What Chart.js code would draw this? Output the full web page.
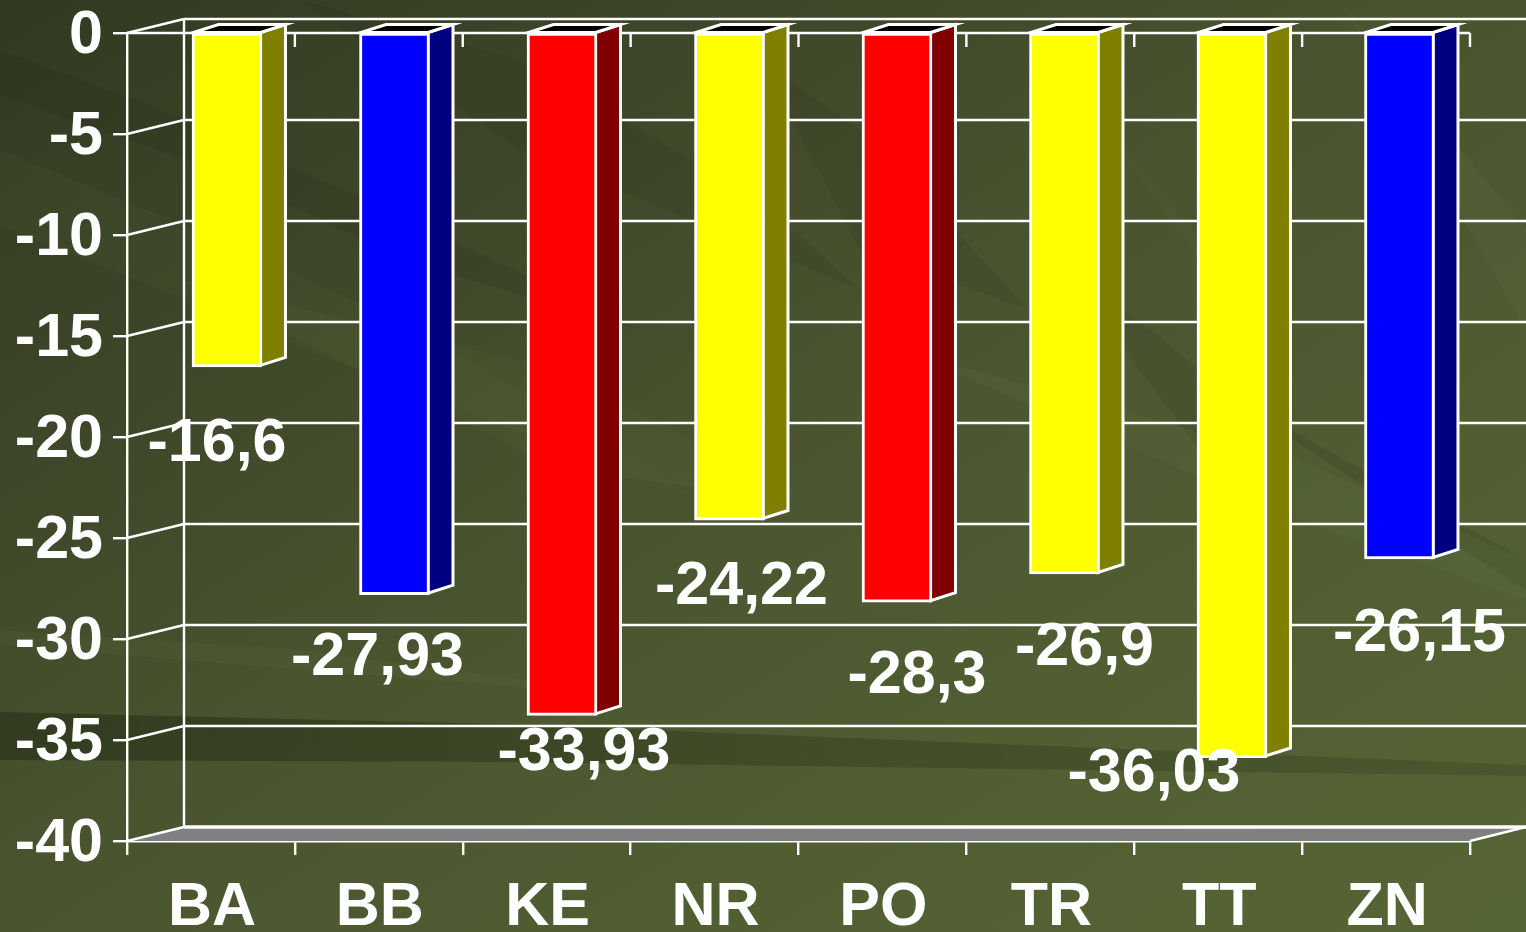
<!DOCTYPE html>
<html><head><meta charset="utf-8">
<style>
html,body{margin:0;padding:0;width:1526px;height:932px;overflow:hidden}
body{background:linear-gradient(to bottom right,#323922 0%,#3c4528 22%,#4a5530 50%,#505e32 72%,#566535 100%)}
canvas{display:block}
</style>
<script src="https://cdn.jsdelivr.net/npm/chart.js@4"></script>
</head><body><canvas id="c" width="1526" height="932"></canvas>
<script>
const categories = ['BA','BB','KE','NR','PO','TR','TT','ZN'];
const values = [-16.6,-27.93,-33.93,-24.22,-28.3,-26.9,-36.03,-26.15];
const faceColors = ['#ffff00','#0000ff','#ff0000','#ffff00','#ff0000','#ffff00','#ffff00','#0000ff'];
const sideColors = ['#808000','#000080','#800000','#808000','#800000','#808000','#808000','#000080'];
// hand-placed offsets of the value labels relative to each bar's end
const labelDx = [-10,-17,22,12,20,20,-78,20];
const labelDy = [77,64,38,67,74,74,17,75];
// decorative backdrop streaks: [colour, points...]
const streaks = [
  ['rgba(30,35,18,.14)',[[0,50],[200,125],[420,225],[640,330],[420,265],[200,165],[0,95]]],
  ['rgba(90,105,60,.12)',[[0,150],[185,225],[420,330],[700,500],[420,395],[185,300],[0,225]]],
  ['rgba(90,110,55,.14)',[[180,280],[560,370],[800,500],[560,470]]],
  ['rgba(25,30,15,.10)',[[300,0],[520,60],[760,200],[860,290],[520,150]]],
  ['rgba(25,30,15,.10)',[[760,60],[860,130],[1030,310],[860,250]]],
  ['rgba(25,30,15,.10)',[[1050,250],[1200,370],[1290,470],[1200,450]]],
  ['rgba(25,30,15,.12)',[[1200,380],[1526,590],[1526,560]]],
  ['rgba(120,140,85,.10)',[[900,350],[1300,460],[1526,560],[1526,600],[1300,520]]],
  ['rgba(120,140,85,.10)',[[1340,0],[1526,230],[1526,330]]],
  ['rgba(120,140,85,.06)',[[1050,60],[1250,300],[1320,420]]],
  ['rgba(100,120,70,.14)',[[0,630],[300,650],[640,695],[300,670],[0,645]]]
];

const BASEFONT = '"Liberation Sans", Arial, sans-serif';
const FONT = 'bold 61px ' + BASEFONT;
const DX = 57, DY = 14, BDX = 25, BDY = 8, W = 1526;

function line(ctx, x1, y1, x2, y2){ctx.beginPath();ctx.moveTo(x1,y1);ctx.lineTo(x2,y2);ctx.stroke();}
function poly(ctx, pts){ctx.beginPath();pts.forEach((p,i)=>i?ctx.lineTo(p[0],p[1]):ctx.moveTo(p[0],p[1]));ctx.closePath();}

const threeD = {
  id:'threeD',
  beforeDraw(chart){
    const {ctx} = chart;
    ctx.save();
    streaks.forEach(([c,pts])=>{ctx.fillStyle=c;poly(ctx,pts);ctx.fill();});
    const g = ctx.createLinearGradient(0,0,1526,0);
    g.addColorStop(0,'rgba(40,48,24,.62)');g.addColorStop(.5,'rgba(40,48,24,.35)');g.addColorStop(1,'rgba(40,48,24,.22)');
    ctx.fillStyle=g;
    poly(ctx,[[0,712],[500,724],[1526,765],[1526,776],[500,762],[0,760]]);ctx.fill();
    ctx.restore();
  },
  beforeDatasetsDraw(chart){
    const {ctx, chartArea:a, scales:{y}} = chart;
    ctx.save();
    ctx.strokeStyle='#fff'; ctx.lineWidth=2.4;
    const fy = y.getPixelForValue(-40);
    ctx.fillStyle='#808080';
    poly(ctx,[[a.left,fy],[a.left+DX,fy-DY],[W,fy-DY],[a.right,fy]]);ctx.fill();
    y.ticks.forEach(t=>{
      const p = y.getPixelForValue(t.value);
      line(ctx,a.left,p,a.left+DX,p-DY);
      ctx.lineWidth = t.value===-40 ? 3.5 : 2.4;
      line(ctx,a.left+DX,p-DY,W,p-DY);
      ctx.lineWidth = 2.4;
    });
    line(ctx,a.left+DX,y.getPixelForValue(0)-DY,a.left+DX,fy-DY);
    line(ctx,a.right,fy,W,fy-DY);
    const z = y.getPixelForValue(0);
    line(ctx,a.left,z,a.right,z);
    categories.forEach((c,i)=>{
      const px = a.left + (a.right-a.left)*(i+1)/categories.length;
      line(ctx,px,z,px,z+14);
    });
    ctx.lineWidth=3;
    chart.getDatasetMeta(0).data.forEach((b,i)=>{
      const l=b.x-b.width/2+1.5, r=b.x+b.width/2-1.5, t=b.base-0.5, bt=b.y-1.5;
      ctx.fillStyle=sideColors[i];
      poly(ctx,[[r,t],[r+BDX,t-BDY],[r+BDX,bt-BDY],[r,bt]]);ctx.fill();ctx.stroke();
      ctx.fillStyle='#000';
      poly(ctx,[[l,t],[l+BDX,t-BDY],[r+BDX,t-BDY],[r,t]]);ctx.fill();ctx.stroke();
    });
    ctx.restore();
  },
  afterDatasetsDraw(chart){
    const {ctx} = chart;
    ctx.save();
    ctx.font=FONT;ctx.fillStyle='#fff';ctx.textAlign='center';ctx.textBaseline='middle';
    chart.getDatasetMeta(0).data.forEach((b,i)=>{
      ctx.fillText(String(values[i]).replace('.',','), b.x+labelDx[i], b.y+labelDy[i]);
    });
    ctx.restore();
  }
};

new Chart(document.getElementById('c'),{
  type:'bar',
  data:{labels:categories,datasets:[{
    data:values.map((v,i)=>({x:i,y:v})),
    xAxisID:'xBars',yAxisID:'yBars',
    backgroundColor:faceColors,borderColor:'#fff',borderWidth:3,borderSkipped:false,
    barThickness:70,clip:false
  }]},
  options:{
    responsive:false,animation:false,
    layout:{autoPadding:false,padding:{left:0,right:56,top:33,bottom:0}},
    plugins:{legend:{display:false},tooltip:{enabled:false}},
    scales:{
      x:{type:'category',labels:categories,position:'bottom',offset:true,
        grid:{offset:true,drawOnChartArea:false,color:'#fff',lineWidth:2.4,tickLength:14,tickColor:'#fff'},
        border:{color:'#fff',width:2.4},
        ticks:{color:'#fff',font:{family:BASEFONT,weight:'bold',size:61},padding:17,labelOffset:1,maxRotation:0,autoSkip:false},
        afterFit(s){s.height=91;s.paddingLeft=0;s.paddingRight=0;}},
      y:{type:'linear',position:'left',min:-40,max:0,
        grid:{drawOnChartArea:false,color:'#fff',lineWidth:2.4,tickLength:14,tickColor:'#fff'},
        border:{color:'#fff',width:2.4},
        ticks:{stepSize:5,color:'#fff',font:{family:BASEFONT,weight:'bold',size:61},padding:10,labelOffset:3},
        afterFit(s){s.width=127;s.paddingTop=0;s.paddingBottom=0;}},
      xBars:{type:'linear',display:false,min:-0.597,max:7.421,offset:false},
      yBars:{type:'linear',display:false,min:-40.18,max:0}
    }
  },
  plugins:[threeD]
});
</script></body></html>
